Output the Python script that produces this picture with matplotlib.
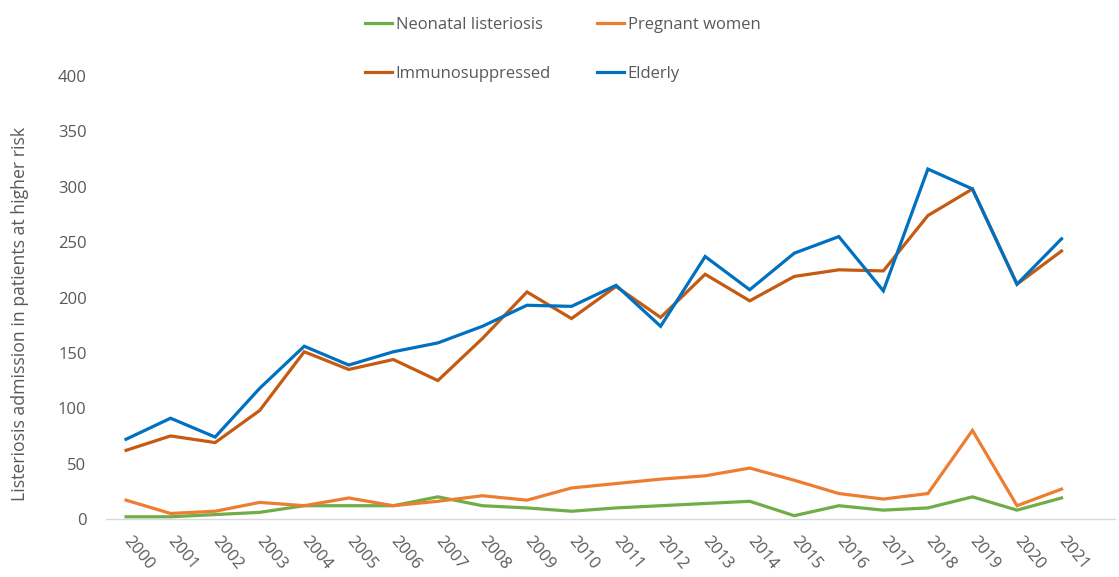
import matplotlib
matplotlib.use("Agg")
import matplotlib.pyplot as plt

years = [str(y) for y in range(2000, 2022)]
neonatal = [2, 2, 4, 6, 12, 12, 12, 20, 12, 10, 7, 10, 12, 14, 16, 3, 12, 8, 10, 20, 8, 19]
pregnant = [17, 5, 7, 15, 12, 19, 12, 16, 21, 17, 28, 32, 36, 39, 46, 35, 23, 18, 23, 80, 12, 27]
immuno = [62, 75, 69, 98, 151, 135, 144, 125, 163, 205, 181, 210, 182, 221, 197, 219, 225, 224, 274, 298, 212, 242]
elderly = [72, 91, 74, 118, 156, 139, 151, 159, 174, 193, 192, 211, 174, 237, 207, 240, 255, 206, 316, 298, 212, 253]

series_names = ["Neonatal listeriosis", "Pregnant women", "Immunosuppressed", "Elderly"]
colors = ["#70AD47", "#ED7D31", "#C55A11", "#0070C0"]

plt.rcParams['font.family'] = ['Open Sans', 'DejaVu Sans']
gray = "#595959"

fig = plt.figure(figsize=(11.19, 5.77), dpi=100)
ax = fig.add_axes([106/1119, 1-519/577, (1115-106)/1119, (519-76)/577])

x = list(range(len(years)))
handles = []
for vals, name, c in zip([neonatal, pregnant, immuno, elderly], series_names, colors):
    h, = ax.plot(x, vals, color=c, lw=2.3, label=name, solid_joinstyle='miter')
    handles.append(h)

ax.set_xlim(-0.45, 22.2)
ax.set_ylim(0, 400)
ax.set_yticks(range(0, 401, 50))
ax.set_xticks(x)
ax.set_xticklabels(years, rotation=-50, ha='left', va='center', rotation_mode='anchor')
for s in ['top', 'right', 'left']:
    ax.spines[s].set_visible(False)
ax.spines['bottom'].set_color('#D9D9D9')
ax.spines['bottom'].set_linewidth(1.0)
ax.tick_params(axis='both', length=0, labelsize=12, colors=gray)
ax.tick_params(axis='y', pad=14)
ax.tick_params(axis='x', pad=14)

fig.text(20/1119, 1-314/577, "Listeriosis admission in patients at higher risk",
         rotation=90, ha='center', va='center', fontsize=12.7, color=gray)

order = [0, 2, 1, 3]
leg = fig.legend(handles=[handles[i] for i in order],
                 labels=[series_names[i] for i in order], ncol=2, loc='upper left',
                 bbox_to_anchor=(350/1119, 1-2/577), frameon=False, fontsize=12,
                 handlelength=1.6, handletextpad=0.25, columnspacing=2.75,
                 labelspacing=2.0, labelcolor=gray)

fig.savefig("out.png", dpi=100)
